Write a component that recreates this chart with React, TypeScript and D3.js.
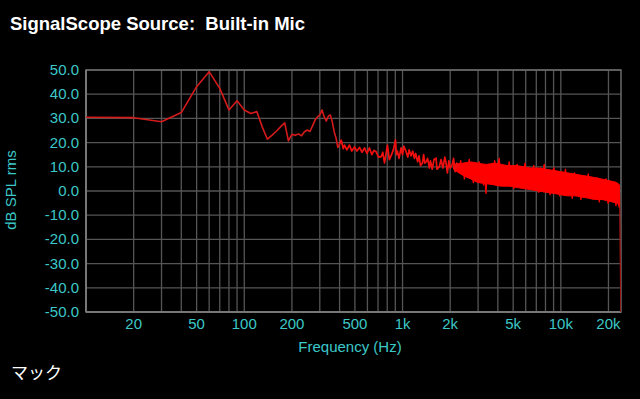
import React from 'react';
import * as d3 from 'd3';

// low end of the spectrum, 10 Hz bins
const lowFreqs = [10, 20, 30, 40, 50, 60, 70, 80, 90, 100, 110, 120, 130, 140, 150, 160, 170, 180, 190, 200,
    210, 220, 230, 240, 250, 260, 270, 280, 290, 300, 310, 320, 330, 340, 350, 360, 370, 380, 390, 400];
const lowLevels = [30.5, 30.3, 28.6, 32.4, 43.1, 49.3, 42.4, 33.5, 37.3, 33.5, 32.0, 32.8, 26.4, 21.4, 23.1, 24.8, 26.6, 28.2, 20.7, 23.4,
    23.0, 23.6, 22.8, 24.5, 25.2, 24.6, 26.9, 29.3, 30.6, 31.4, 33.5, 30.6, 28.9, 31.0, 31.4, 28.5, 24.4, 21.9, 18.0, 19.4];

// mid range, noisy trace
const midFreqs = [410, 422, 430, 445, 462, 478, 497, 515, 535, 555, 575, 596, 618, 640, 660, 681, 705, 733, 750, 769,
    785, 803, 825, 847, 875, 902, 915, 928, 950, 979, 1000, 1020, 1053, 1080, 1100, 1132, 1160, 1188, 1210, 1246,
    1270, 1300, 1335, 1360, 1380, 1408, 1440, 1477, 1500, 1540, 1580, 1628, 1650, 1708, 1750, 1800, 1850, 1882, 1920, 1960,
    2000, 2063, 2100, 2150, 2200, 2284];
const midLevels = [21.0, 17.5, 19.0, 17.0, 19.0, 16.5, 18.2, 16.5, 18.0, 16.0, 17.8, 15.5, 17.8, 15.0, 16.8, 16.2, 14.0, 14.2, 16.0, 11.6,
    15.0, 19.0, 13.0, 14.6, 17.0, 21.1, 15.0, 16.5, 13.5, 17.8, 15.0, 18.5, 16.2, 14.0, 17.0, 14.5, 16.5, 13.5, 15.5, 12.1,
    14.5, 10.5, 11.6, 15.0, 11.5, 12.0, 13.5, 9.5, 12.5, 9.0, 13.0, 13.6, 9.0, 10.0, 13.0, 9.5, 14.0, 11.6, 7.5, 12.5,
    9.5, 11.0, 13.5, 8.0, 11.5, 9.5];

// high range, dense band core: upper and lower edge
const bandFreqs = [2100, 2400, 2700, 3000, 3400, 3800, 4200, 4700, 5200, 5800, 6500, 7200, 8000, 9000, 10000, 11000, 12200,
    13500, 15000, 16500, 18000, 19500, 21000, 22500, 23500];
const bandHigh = [11.0, 11.5, 12.0, 11.5, 11.0, 11.5, 11.0, 10.5, 10.5, 10.0, 9.5, 9.5, 9.0, 8.5, 8.0, 7.5, 7.0,
    6.5, 6.0, 5.5, 5.0, 4.5, 4.0, 3.5, 2.5];
const bandLow = [9.0, 6.5, 5.0, 3.5, 3.0, 2.5, 2.0, 2.0, 1.5, 1.0, 0.5, 0.0, -0.5, -1.0, -1.5, -2.0, -2.0,
    -2.5, -3.0, -3.5, -3.5, -4.0, -4.5, -5.0, -6.0];

// spikes sticking out of the band
const spikeFreqs = [2284, 2330, 2370, 2420, 2460, 2517, 2560, 2640, 2700, 2740, 2800, 2870, 2910, 2980, 3050, 3100, 3180, 3250,
    3300, 3365, 3420, 3480, 3560, 3620, 3700, 3820, 3900, 3980, 4082, 4150, 4250, 4330, 4450, 4550, 4650, 4719, 4800, 4950,
    5050, 5150, 5300, 5400, 5550, 5650, 5800, 5950, 6100, 6250, 6400, 6550, 6750, 6900, 7100, 7250, 7450, 7650, 7850, 8050,
    8300, 8550, 8800, 9050, 9300, 9600, 9850, 10100, 10400, 10700, 11000, 11400, 11800, 12200, 12600, 13000, 13400, 13900,
    14400, 14900, 15400, 15900, 16400, 16900, 17500, 18100, 18700, 19300, 19900, 20500, 21100, 21700, 22300, 22900, 23300, 23500];
const spikeLevels = [9.5, 12.5, 7.0, 10.0, 5.0, 11.5, 8.0, 13.0, 6.5, 9.0, 3.5, 8.5, 10.5, 5.0, 12.0, 7.5, 9.0, 2.5,
    8.0, -1.0, 7.0, 11.0, 6.0, 9.5, 4.0, 12.5, 8.0, 10.0, 13.5, 5.0, 9.0, 3.0, 10.5, 6.5, 8.5, 12.0, 4.0, 9.0,
    1.0, 7.5, 11.0, 5.0, 10.0, 2.5, 8.0, 11.5, 4.5, 9.5, 1.0, 7.5, 10.5, 3.5, 8.5, -0.5, 9.5, 4.0, 11.0, 2.5,
    8.0, -1.5, 7.0, 9.5, 1.5, 6.5, -2.0, 8.0, 3.0, 9.0, -1.0, 6.0, -3.0, 7.5, 2.0, 6.0, -3.5, 5.5,
    0.5, 7.0, -3.0, 4.5, -1.0, 5.5, -4.5, 4.0, -2.0, 5.0, -5.0, 3.0, -3.0, 2.5, -6.0, 1.5, -6.5, -2.0];

// last bin falls off the bottom
const tailFreqs = [23500, 24000];
const tailLevels = [-2.0, -55];

const yTicks = [50, 40, 30, 20, 10, 0, -10, -20, -30, -40, -50];
const xGrid = [20, 30, 40, 50, 60, 70, 80, 90, 100, 200, 300, 400, 500, 600, 700, 800, 900,
    1000, 2000, 3000, 4000, 5000, 6000, 7000, 8000, 9000, 10000, 20000];
const xTicks = [20, 50, 100, 200, 500, 1000, 2000, 5000, 10000, 20000];
const xTickLabels = ['20', '50', '100', '200', '500', '1k', '2k', '5k', '10k', '20k'];

const CYAN = '#3cc8c8';
const FONT = '"Liberation Sans", Arial, sans-serif';

export default function App() {
    const left = 86, right = 621, top = 70, bottom = 312;

    const x = d3.scaleLog().domain([10, 24000]).range([left, right]);
    const y = d3.scaleLinear().domain([-50, 50]).range([bottom, top]);

    const line = d3.line<[number, number]>()
        .x(d => x(d[0]))
        .y(d => y(d[1]));

    const pairs = (fs: number[], vs: number[]) => fs.map((f, i) => [f, vs[i]] as [number, number]);
    const lowPts = pairs(lowFreqs, lowLevels);
    const midPts = [lowPts[lowPts.length - 1]].concat(pairs(midFreqs, midLevels));
    const spikePts = pairs(spikeFreqs, spikeLevels);
    const tailPts = pairs(tailFreqs, tailLevels);

    const band = d3.area<number>()
        .curve(d3.curveMonotoneX)
        .x(d => x(bandFreqs[d]))
        .y0(d => y(bandLow[d]))
        .y1(d => y(bandHigh[d]));

    return (
        <svg width={640} height={399} style={{ position: 'fixed', left: 0, top: 0, display: 'block' }}>
            <rect width={640} height={399} fill="#000" />
            <defs>
                <clipPath id="plot">
                    <rect x={left} y={top} width={right - left} height={bottom - top} />
                </clipPath>
            </defs>

            <text x={10} y={30} fill="#fff" fontFamily={FONT} fontWeight="bold" fontSize={18.5}>
                SignalScope Source:{'\u00a0\u00a0'}Built-in Mic
            </text>

            {/* grid */}
            {yTicks.map(t => (
                <line key={'h' + t} x1={left} x2={right} y1={y(t)} y2={y(t)} stroke="#555" strokeWidth={1.3} />
            ))}
            {xGrid.map(f => (
                <line key={'v' + f} x1={x(f)} x2={x(f)} y1={top} y2={bottom} stroke="#555" strokeWidth={1.3} />
            ))}
            <rect x={left} y={top} width={right - left} height={bottom - top} fill="none" stroke="#6a6a6a" strokeWidth={1.5} />
            <line x1={left} x2={left} y1={top} y2={bottom} stroke="#777" strokeWidth={2} />
            <line x1={left} x2={right} y1={bottom} y2={bottom} stroke="#777" strokeWidth={2} />

            {/* trace */}
            <g clipPath="url(#plot)">
                <path d={line(tailPts) || ''} fill="none" stroke="#a01212" strokeWidth={1.2} />
                <path d={band(d3.range(bandFreqs.length)) || ''} fill="#ff0000" stroke="#ff0000" strokeWidth={1} />
                <path d={line(spikePts) || ''} fill="none" stroke="#ff0000" strokeWidth={1.4} strokeLinejoin="round" />
                <path d={line(midPts) || ''} fill="none" stroke="#f01010" strokeWidth={1.7} strokeLinejoin="round" />
                <path d={line(lowPts) || ''} fill="none" stroke="#d41a1a" strokeWidth={1.6} strokeLinejoin="round" />
            </g>

            {/* axes labels */}
            {yTicks.map(t => (
                <text key={'yl' + t} x={79} y={y(t) + 5} fill={CYAN} fontFamily={FONT} fontSize={15} textAnchor="end">
                    {t.toFixed(1)}
                </text>
            ))}
            {xTicks.map((f, i) => (
                <text key={'xl' + f} x={x(f)} y={329} fill={CYAN} fontFamily={FONT} fontSize={15} textAnchor="middle">
                    {xTickLabels[i]}
                </text>
            ))}
            <text x={350} y={352} fill={CYAN} fontFamily={FONT} fontSize={15} textAnchor="middle">Frequency (Hz)</text>
            <text transform="translate(16,190) rotate(-90)" fill={CYAN} fontFamily={FONT} fontSize={15} textAnchor="middle">dB SPL rms</text>

            <text x={11} y={379} fill="#fff" fontFamily='"Noto Sans CJK JP", sans-serif' fontSize={17}>マック</text>
        </svg>
    );
}
